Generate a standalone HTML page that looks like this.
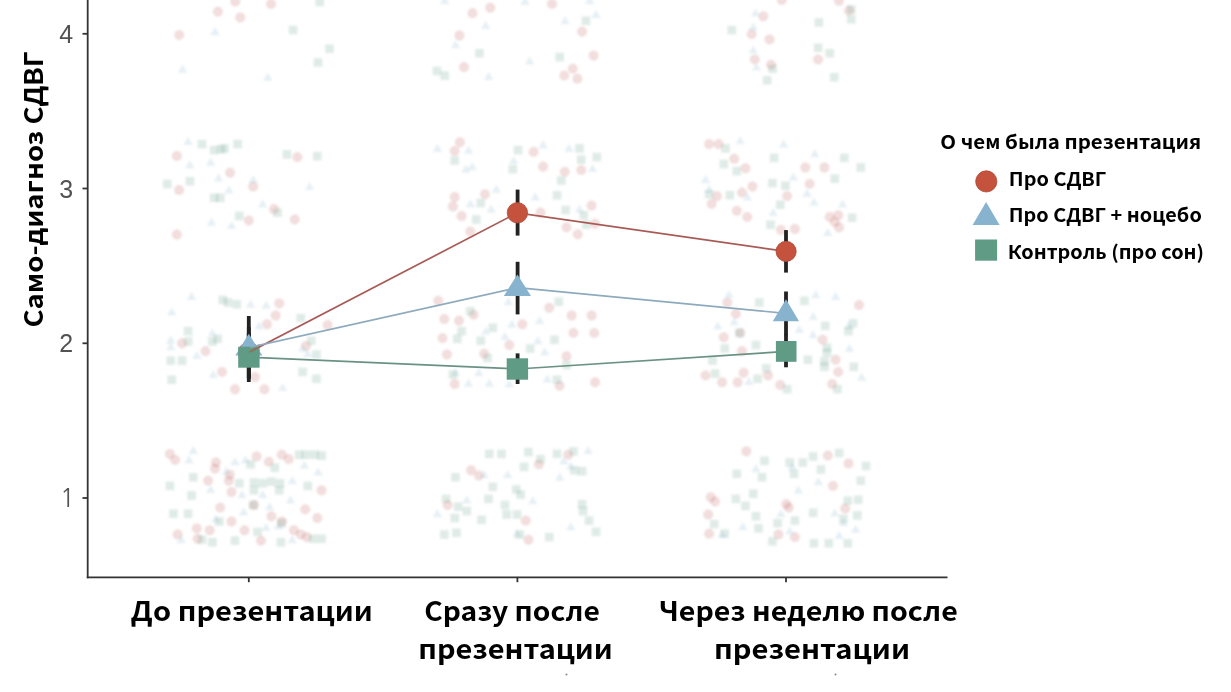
<!DOCTYPE html>
<html lang="ru">
<head>
<meta charset="utf-8">
<title>Само-диагноз СДВГ</title>
<style>
html,body{margin:0;padding:0;background:#fff;}
body{width:1231px;height:692px;overflow:hidden;position:relative;}
svg{position:absolute;left:0;top:0;display:block;filter:blur(0.3px);}
.lab{font-family:"Noto Sans CJK SC","Liberation Sans",sans-serif;font-weight:700;fill:#000;}
.tick{font-family:"Liberation Sans",Arial,sans-serif;font-size:25px;fill:#525252;}
</style>
</head>
<body>
<svg width="1231" height="692" viewBox="0 0 1231 692">
  <defs><filter id="bl" x="-5%" y="-5%" width="110%" height="110%"><feGaussianBlur stdDeviation="1"/></filter></defs>
  <rect x="0" y="0" width="1231" height="692" fill="#fff"/>
  <!-- jitter points -->
  <g id="jitter" filter="url(#bl)">
<g fill="#c05050" fill-opacity="0.19" stroke="#b04848" stroke-opacity="0.14" stroke-width="0.9">
<circle cx="179.2" cy="34.9" r="4.5"/><circle cx="217.9" cy="11.7" r="4.5"/><circle cx="235.3" cy="1.6" r="4.5"/><circle cx="240.2" cy="17.5" r="4.5"/><circle cx="271.0" cy="4.0" r="4.5"/><circle cx="176.9" cy="155.9" r="4.5"/><circle cx="230.1" cy="172.7" r="4.5"/><circle cx="179.1" cy="190.0" r="4.5"/><circle cx="253.2" cy="186.5" r="4.5"/><circle cx="248.8" cy="220.4" r="4.5"/><circle cx="274.0" cy="209.1" r="4.5"/><circle cx="294.8" cy="219.5" r="4.5"/><circle cx="176.9" cy="234.6" r="4.5"/><circle cx="297.4" cy="157.1" r="4.5"/><circle cx="279.2" cy="303.4" r="4.5"/><circle cx="275.7" cy="315.5" r="4.5"/><circle cx="267.0" cy="324.2" r="4.5"/><circle cx="182.1" cy="343.3" r="4.5"/><circle cx="205.5" cy="351.1" r="4.5"/><circle cx="222.0" cy="371.9" r="4.5"/><circle cx="254.9" cy="377.1" r="4.5"/><circle cx="235.0" cy="389.2" r="4.5"/><circle cx="264.4" cy="389.2" r="4.5"/><circle cx="306.0" cy="345.9" r="4.5"/><circle cx="327.7" cy="325.1" r="4.5"/><circle cx="169.9" cy="453.9" r="4.5"/><circle cx="175.1" cy="459.9" r="4.5"/><circle cx="215.9" cy="462.5" r="4.5"/><circle cx="215.0" cy="468.6" r="4.5"/><circle cx="208.1" cy="480.7" r="4.5"/><circle cx="229.8" cy="474.7" r="4.5"/><circle cx="228.9" cy="480.7" r="4.5"/><circle cx="231.5" cy="492.0" r="4.5"/><circle cx="256.6" cy="456.5" r="4.5"/><circle cx="268.8" cy="461.7" r="4.5"/><circle cx="281.8" cy="454.7" r="4.5"/><circle cx="288.7" cy="459.1" r="4.5"/><circle cx="321.6" cy="490.3" r="4.5"/><circle cx="220.2" cy="507.6" r="4.5"/><circle cx="254.0" cy="505.0" r="4.5"/><circle cx="305.2" cy="509.3" r="4.5"/><circle cx="317.3" cy="518.0" r="4.5"/><circle cx="271.4" cy="516.3" r="4.5"/><circle cx="231.5" cy="521.5" r="4.5"/><circle cx="196.8" cy="528.4" r="4.5"/><circle cx="209.8" cy="530.2" r="4.5"/><circle cx="244.5" cy="530.2" r="4.5"/><circle cx="177.7" cy="534.5" r="4.5"/><circle cx="197.7" cy="538.8" r="4.5"/><circle cx="293.9" cy="530.2" r="4.5"/><circle cx="300.8" cy="534.5" r="4.5"/><circle cx="306.9" cy="537.1" r="4.5"/><circle cx="261.0" cy="540.6" r="4.5"/><circle cx="281.8" cy="521.5" r="4.5"/><circle cx="490.2" cy="7.7" r="4.5"/><circle cx="472.5" cy="13.1" r="4.5"/><circle cx="459.4" cy="35.5" r="4.5"/><circle cx="464.0" cy="67.1" r="4.5"/><circle cx="552.0" cy="3.9" r="4.5"/><circle cx="582.1" cy="31.6" r="4.5"/><circle cx="593.6" cy="55.6" r="4.5"/><circle cx="572.8" cy="68.7" r="4.5"/><circle cx="564.3" cy="75.6" r="4.5"/><circle cx="577.4" cy="78.7" r="4.5"/><circle cx="459.9" cy="142.3" r="4.5"/><circle cx="454.7" cy="151.0" r="4.5"/><circle cx="533.6" cy="151.9" r="4.5"/><circle cx="543.1" cy="166.6" r="4.5"/><circle cx="564.8" cy="171.8" r="4.5"/><circle cx="581.2" cy="170.1" r="4.5"/><circle cx="485.0" cy="194.3" r="4.5"/><circle cx="454.7" cy="197.0" r="4.5"/><circle cx="452.9" cy="206.5" r="4.5"/><circle cx="461.6" cy="216.0" r="4.5"/><circle cx="470.3" cy="231.6" r="4.5"/><circle cx="540.5" cy="212.6" r="4.5"/><circle cx="591.6" cy="205.6" r="4.5"/><circle cx="595.1" cy="223.8" r="4.5"/><circle cx="577.8" cy="234.2" r="4.5"/><circle cx="566.5" cy="227.3" r="4.5"/><circle cx="438.2" cy="300.8" r="4.5"/><circle cx="444.3" cy="319.0" r="4.5"/><circle cx="459.0" cy="320.7" r="4.5"/><circle cx="442.5" cy="338.1" r="4.5"/><circle cx="473.7" cy="314.7" r="4.5"/><circle cx="522.3" cy="324.2" r="4.5"/><circle cx="509.3" cy="345.0" r="4.5"/><circle cx="484.1" cy="353.7" r="4.5"/><circle cx="446.9" cy="354.5" r="4.5"/><circle cx="454.7" cy="384.0" r="4.5"/><circle cx="549.2" cy="307.7" r="4.5"/><circle cx="571.7" cy="315.5" r="4.5"/><circle cx="591.6" cy="315.5" r="4.5"/><circle cx="573.4" cy="332.9" r="4.5"/><circle cx="594.2" cy="332.9" r="4.5"/><circle cx="566.5" cy="356.3" r="4.5"/><circle cx="559.6" cy="385.8" r="4.5"/><circle cx="595.1" cy="382.3" r="4.5"/><circle cx="471.1" cy="470.3" r="4.5"/><circle cx="478.9" cy="475.5" r="4.5"/><circle cx="538.8" cy="464.3" r="4.5"/><circle cx="568.2" cy="454.7" r="4.5"/><circle cx="447.7" cy="505.0" r="4.5"/><circle cx="525.8" cy="520.6" r="4.5"/><circle cx="528.4" cy="539.7" r="4.5"/><circle cx="781.8" cy="0.0" r="4.5"/><circle cx="838.9" cy="0.8" r="4.5"/><circle cx="763.3" cy="16.2" r="4.5"/><circle cx="751.7" cy="34.0" r="4.5"/><circle cx="769.5" cy="39.4" r="4.5"/><circle cx="754.8" cy="59.4" r="4.5"/><circle cx="771.0" cy="64.8" r="4.5"/><circle cx="818.1" cy="59.4" r="4.5"/><circle cx="849.0" cy="10.8" r="4.5"/><circle cx="709.1" cy="144.1" r="4.5"/><circle cx="718.6" cy="144.1" r="4.5"/><circle cx="734.2" cy="158.8" r="4.5"/><circle cx="745.5" cy="168.3" r="4.5"/><circle cx="752.4" cy="186.5" r="4.5"/><circle cx="742.0" cy="192.6" r="4.5"/><circle cx="716.9" cy="196.1" r="4.5"/><circle cx="711.7" cy="203.9" r="4.5"/><circle cx="736.8" cy="210.8" r="4.5"/><circle cx="747.2" cy="216.9" r="4.5"/><circle cx="805.3" cy="167.5" r="4.5"/><circle cx="824.4" cy="167.5" r="4.5"/><circle cx="809.6" cy="183.9" r="4.5"/><circle cx="787.1" cy="196.1" r="4.5"/><circle cx="781.0" cy="229.9" r="4.5"/><circle cx="794.9" cy="229.0" r="4.5"/><circle cx="829.6" cy="216.9" r="4.5"/><circle cx="838.2" cy="215.2" r="4.5"/><circle cx="834.8" cy="222.1" r="4.5"/><circle cx="839.1" cy="227.3" r="4.5"/><circle cx="727.3" cy="302.5" r="4.5"/><circle cx="735.9" cy="313.8" r="4.5"/><circle cx="723.8" cy="337.2" r="4.5"/><circle cx="740.3" cy="332.9" r="4.5"/><circle cx="742.0" cy="351.1" r="4.5"/><circle cx="705.6" cy="375.4" r="4.5"/><circle cx="722.1" cy="382.3" r="4.5"/><circle cx="737.7" cy="382.3" r="4.5"/><circle cx="743.7" cy="372.8" r="4.5"/><circle cx="768.0" cy="375.4" r="4.5"/><circle cx="780.2" cy="384.9" r="4.5"/><circle cx="822.6" cy="339.8" r="4.5"/><circle cx="859.0" cy="305.1" r="4.5"/><circle cx="835.6" cy="359.8" r="4.5"/><circle cx="838.2" cy="371.9" r="4.5"/><circle cx="832.2" cy="384.0" r="4.5"/><circle cx="746.3" cy="451.3" r="4.5"/><circle cx="827.8" cy="455.6" r="4.5"/><circle cx="848.6" cy="463.4" r="4.5"/><circle cx="833.0" cy="485.9" r="4.5"/><circle cx="710.8" cy="497.2" r="4.5"/><circle cx="715.1" cy="501.5" r="4.5"/><circle cx="708.2" cy="514.5" r="4.5"/><circle cx="709.1" cy="533.6" r="4.5"/><circle cx="786.2" cy="504.1" r="4.5"/><circle cx="788.8" cy="507.6" r="4.5"/><circle cx="778.4" cy="534.5" r="4.5"/><circle cx="794.9" cy="537.1" r="4.5"/><circle cx="845.2" cy="508.5" r="4.5"/>
</g>
<g fill="#87b3cf" fill-opacity="0.2">
<polygon points="215.0,27.0 219.8,35.2 210.2,35.2"/><polygon points="182.5,64.5 187.2,72.7 177.8,72.7"/><polygon points="267.8,72.5 272.6,80.7 263.1,80.7"/><polygon points="188.1,136.8 192.8,145.0 183.3,145.0"/><polygon points="189.9,160.2 194.7,168.4 185.2,168.4"/><polygon points="210.7,157.6 215.4,165.8 205.9,165.8"/><polygon points="218.5,173.2 223.2,181.4 213.8,181.4"/><polygon points="228.9,185.4 233.7,193.6 224.2,193.6"/><polygon points="253.2,175.0 257.9,183.2 248.4,183.2"/><polygon points="262.7,199.3 267.4,207.5 257.9,207.5"/><polygon points="211.5,217.5 216.2,225.7 206.8,225.7"/><polygon points="231.5,220.9 236.2,229.1 226.8,229.1"/><polygon points="309.5,181.9 314.2,190.1 304.8,190.1"/><polygon points="191.6,291.8 196.3,300.0 186.8,300.0"/><polygon points="171.7,307.4 176.4,315.6 166.9,315.6"/><polygon points="170.8,335.2 175.6,343.4 166.1,343.4"/><polygon points="170.8,342.1 175.6,350.3 166.1,350.3"/><polygon points="196.8,350.8 201.6,359.0 192.1,359.0"/><polygon points="212.4,328.2 217.2,336.4 207.7,336.4"/><polygon points="250.6,299.6 255.3,307.8 245.8,307.8"/><polygon points="266.2,300.5 270.9,308.7 261.4,308.7"/><polygon points="259.2,321.3 263.9,329.5 254.4,329.5"/><polygon points="213.3,369.9 218.1,378.1 208.6,378.1"/><polygon points="282.6,382.9 287.4,391.1 277.9,391.1"/><polygon points="302.6,343.8 307.4,352.0 297.9,352.0"/><polygon points="307.8,349.0 312.6,357.2 303.1,357.2"/><polygon points="193.3,445.8 198.1,454.0 188.6,454.0"/><polygon points="189.0,455.3 193.8,463.5 184.2,463.5"/><polygon points="235.0,457.0 239.8,465.2 230.2,465.2"/><polygon points="245.4,455.3 250.2,463.5 240.7,463.5"/><polygon points="226.3,466.6 231.1,474.8 221.6,474.8"/><polygon points="210.7,484.8 215.4,493.0 205.9,493.0"/><polygon points="241.9,490.0 246.7,498.2 237.2,498.2"/><polygon points="262.7,490.0 267.4,498.2 257.9,498.2"/><polygon points="292.2,476.1 296.9,484.3 287.4,484.3"/><polygon points="304.3,460.5 309.1,468.7 299.6,468.7"/><polygon points="318.2,467.4 322.9,475.6 313.4,475.6"/><polygon points="290.4,495.2 295.1,503.4 285.6,503.4"/><polygon points="269.6,502.1 274.4,510.3 264.9,510.3"/><polygon points="243.6,507.3 248.3,515.5 238.8,515.5"/><polygon points="215.9,514.3 220.7,522.5 211.2,522.5"/><polygon points="266.2,522.9 270.9,531.1 261.4,531.1"/><polygon points="278.3,521.2 283.1,529.4 273.6,529.4"/><polygon points="181.2,535.1 185.9,543.3 176.4,543.3"/><polygon points="292.2,535.1 296.9,543.3 287.4,543.3"/><polygon points="525.0,-3.2 529.8,5.0 520.2,5.0"/><polygon points="485.6,20.7 490.4,28.9 480.9,28.9"/><polygon points="455.5,40.0 460.2,48.2 450.8,48.2"/><polygon points="529.6,56.2 534.4,64.4 524.9,64.4"/><polygon points="488.7,71.7 493.4,79.9 483.9,79.9"/><polygon points="565.1,16.1 569.9,24.3 560.4,24.3"/><polygon points="596.0,9.9 600.8,18.1 591.2,18.1"/><polygon points="589.8,-4.0 594.5,4.2 585.0,4.2"/><polygon points="444.7,-4.0 449.4,4.2 439.9,4.2"/><polygon points="437.3,143.8 442.1,152.0 432.6,152.0"/><polygon points="468.5,145.5 473.2,153.7 463.8,153.7"/><polygon points="465.9,164.6 470.6,172.8 461.1,172.8"/><polygon points="472.0,162.0 476.8,170.2 467.2,170.2"/><polygon points="513.6,155.9 518.4,164.1 508.9,164.1"/><polygon points="543.1,140.3 547.9,148.5 538.4,148.5"/><polygon points="569.1,143.8 573.9,152.0 564.4,152.0"/><polygon points="592.5,163.7 597.2,171.9 587.8,171.9"/><polygon points="496.3,184.5 501.1,192.7 491.6,192.7"/><polygon points="470.3,199.3 475.1,207.5 465.6,207.5"/><polygon points="491.1,204.5 495.9,212.7 486.4,212.7"/><polygon points="535.3,192.3 540.0,200.5 530.5,200.5"/><polygon points="579.5,204.5 584.2,212.7 574.8,212.7"/><polygon points="508.4,297.0 513.1,305.2 503.6,305.2"/><polygon points="539.6,316.1 544.4,324.3 534.9,324.3"/><polygon points="511.9,319.6 516.6,327.8 507.1,327.8"/><polygon points="505.0,331.7 509.8,339.9 500.2,339.9"/><polygon points="537.9,336.0 542.6,344.2 533.1,344.2"/><polygon points="544.8,347.3 549.5,355.5 540.0,355.5"/><polygon points="485.9,326.5 490.6,334.7 481.1,334.7"/><polygon points="478.9,368.1 483.6,376.3 474.1,376.3"/><polygon points="468.5,378.5 473.2,386.7 463.8,386.7"/><polygon points="489.3,378.5 494.1,386.7 484.6,386.7"/><polygon points="509.3,379.4 514.0,387.6 504.6,387.6"/><polygon points="547.4,374.2 552.1,382.4 542.6,382.4"/><polygon points="455.5,368.1 460.2,376.3 450.8,376.3"/><polygon points="484.1,470.0 488.9,478.2 479.4,478.2"/><polygon points="507.6,470.0 512.4,478.2 502.9,478.2"/><polygon points="588.2,445.8 593.0,454.0 583.5,454.0"/><polygon points="563.9,456.2 568.6,464.4 559.1,464.4"/><polygon points="570.8,461.4 575.5,469.6 566.0,469.6"/><polygon points="559.6,472.6 564.4,480.8 554.9,480.8"/><polygon points="532.7,496.0 537.5,504.2 528.0,504.2"/><polygon points="466.8,495.2 471.6,503.4 462.1,503.4"/><polygon points="437.3,509.0 442.1,517.2 432.6,517.2"/><polygon points="570.8,522.1 575.5,530.3 566.0,530.3"/><polygon points="517.1,529.0 521.9,537.2 512.4,537.2"/><polygon points="755.6,8.4 760.4,16.6 750.9,16.6"/><polygon points="753.3,22.3 758.0,30.5 748.5,30.5"/><polygon points="753.3,45.4 758.0,53.6 748.5,53.6"/><polygon points="756.4,62.4 761.1,70.6 751.6,70.6"/><polygon points="740.3,136.0 745.0,144.2 735.5,144.2"/><polygon points="783.6,139.4 788.4,147.6 778.9,147.6"/><polygon points="814.8,149.0 819.5,157.2 810.0,157.2"/><polygon points="793.2,172.4 798.0,180.6 788.5,180.6"/><polygon points="705.6,175.0 710.4,183.2 700.9,183.2"/><polygon points="709.1,184.5 713.9,192.7 704.4,192.7"/><polygon points="747.2,192.3 752.0,200.5 742.5,200.5"/><polygon points="807.0,188.8 811.8,197.0 802.2,197.0"/><polygon points="814.0,197.5 818.8,205.7 809.2,205.7"/><polygon points="773.2,207.9 778.0,216.1 768.5,216.1"/><polygon points="842.6,199.3 847.4,207.5 837.9,207.5"/><polygon points="827.8,227.9 832.5,236.1 823.0,236.1"/><polygon points="729.0,290.1 733.8,298.3 724.2,298.3"/><polygon points="717.7,321.3 722.5,329.5 713.0,329.5"/><polygon points="734.2,317.0 739.0,325.2 729.5,325.2"/><polygon points="815.7,290.1 820.5,298.3 811.0,298.3"/><polygon points="835.6,291.8 840.4,300.0 830.9,300.0"/><polygon points="813.1,311.8 817.9,320.0 808.4,320.0"/><polygon points="799.2,324.8 804.0,333.0 794.5,333.0"/><polygon points="813.1,330.0 817.9,338.2 808.4,338.2"/><polygon points="848.6,321.3 853.4,329.5 843.9,329.5"/><polygon points="849.5,343.8 854.2,352.0 844.8,352.0"/><polygon points="861.6,372.5 866.4,380.7 856.9,380.7"/><polygon points="748.9,376.8 753.6,385.0 744.1,385.0"/><polygon points="755.9,464.0 760.6,472.2 751.1,472.2"/><polygon points="792.3,462.2 797.0,470.4 787.5,470.4"/><polygon points="818.3,477.0 823.0,485.2 813.5,485.2"/><polygon points="798.4,485.6 803.1,493.8 793.6,493.8"/><polygon points="781.0,509.0 785.8,517.2 776.2,517.2"/><polygon points="834.8,508.2 839.5,516.4 830.0,516.4"/><polygon points="843.4,517.7 848.1,525.9 838.6,525.9"/><polygon points="855.6,524.7 860.4,532.9 850.9,532.9"/><polygon points="742.9,522.1 747.6,530.3 738.1,530.3"/><polygon points="789.7,526.4 794.5,534.6 785.0,534.6"/><polygon points="839.1,530.7 843.9,538.9 834.4,538.9"/><polygon points="722.1,529.9 726.9,538.1 717.4,538.1"/>
</g>
<g fill="#5f9b85" fill-opacity="0.2">
<rect x="315.5" y="-2.3" width="8.6" height="8.6"/><rect x="288.7" y="25.7" width="8.6" height="8.6"/><rect x="325.2" y="44.4" width="8.6" height="8.6"/><rect x="313.7" y="58.2" width="8.6" height="8.6"/><rect x="197.7" y="139.8" width="8.6" height="8.6"/><rect x="209.8" y="145.8" width="8.6" height="8.6"/><rect x="216.8" y="145.0" width="8.6" height="8.6"/><rect x="220.2" y="144.1" width="8.6" height="8.6"/><rect x="233.3" y="139.8" width="8.6" height="8.6"/><rect x="163.0" y="179.7" width="8.6" height="8.6"/><rect x="185.6" y="177.0" width="8.6" height="8.6"/><rect x="209.8" y="193.5" width="8.6" height="8.6"/><rect x="215.9" y="193.5" width="8.6" height="8.6"/><rect x="235.0" y="211.7" width="8.6" height="8.6"/><rect x="273.1" y="208.3" width="8.6" height="8.6"/><rect x="282.7" y="150.2" width="8.6" height="8.6"/><rect x="313.0" y="151.9" width="8.6" height="8.6"/><rect x="218.5" y="295.6" width="8.6" height="8.6"/><rect x="223.7" y="298.2" width="8.6" height="8.6"/><rect x="232.4" y="300.0" width="8.6" height="8.6"/><rect x="183.8" y="326.8" width="8.6" height="8.6"/><rect x="183.8" y="337.2" width="8.6" height="8.6"/><rect x="213.3" y="334.6" width="8.6" height="8.6"/><rect x="208.1" y="337.2" width="8.6" height="8.6"/><rect x="166.5" y="356.3" width="8.6" height="8.6"/><rect x="177.8" y="356.3" width="8.6" height="8.6"/><rect x="167.4" y="375.4" width="8.6" height="8.6"/><rect x="298.3" y="367.6" width="8.6" height="8.6"/><rect x="312.1" y="374.5" width="8.6" height="8.6"/><rect x="312.1" y="350.2" width="8.6" height="8.6"/><rect x="296.5" y="313.8" width="8.6" height="8.6"/><rect x="306.9" y="336.4" width="8.6" height="8.6"/><rect x="165.6" y="481.6" width="8.6" height="8.6"/><rect x="189.0" y="473.0" width="8.6" height="8.6"/><rect x="187.3" y="491.2" width="8.6" height="8.6"/><rect x="169.1" y="509.4" width="8.6" height="8.6"/><rect x="183.8" y="509.4" width="8.6" height="8.6"/><rect x="235.0" y="479.0" width="8.6" height="8.6"/><rect x="249.7" y="478.2" width="8.6" height="8.6"/><rect x="258.4" y="479.0" width="8.6" height="8.6"/><rect x="267.1" y="477.3" width="8.6" height="8.6"/><rect x="275.7" y="479.0" width="8.6" height="8.6"/><rect x="274.9" y="486.0" width="8.6" height="8.6"/><rect x="249.7" y="486.0" width="8.6" height="8.6"/><rect x="303.5" y="481.6" width="8.6" height="8.6"/><rect x="270.5" y="463.4" width="8.6" height="8.6"/><rect x="294.8" y="450.4" width="8.6" height="8.6"/><rect x="301.7" y="450.4" width="8.6" height="8.6"/><rect x="310.4" y="450.4" width="8.6" height="8.6"/><rect x="317.3" y="451.3" width="8.6" height="8.6"/><rect x="246.3" y="460.0" width="8.6" height="8.6"/><rect x="215.0" y="517.2" width="8.6" height="8.6"/><rect x="230.7" y="536.3" width="8.6" height="8.6"/><rect x="197.7" y="535.4" width="8.6" height="8.6"/><rect x="208.1" y="538.0" width="8.6" height="8.6"/><rect x="276.6" y="538.0" width="8.6" height="8.6"/><rect x="253.2" y="527.6" width="8.6" height="8.6"/><rect x="308.7" y="534.5" width="8.6" height="8.6"/><rect x="317.3" y="534.5" width="8.6" height="8.6"/><rect x="248.9" y="500.7" width="8.6" height="8.6"/><rect x="277.5" y="518.9" width="8.6" height="8.6"/><rect x="581.6" y="16.5" width="8.6" height="8.6"/><rect x="475.1" y="48.9" width="8.6" height="8.6"/><rect x="555.4" y="52.8" width="8.6" height="8.6"/><rect x="432.7" y="66.7" width="8.6" height="8.6"/><rect x="440.4" y="71.3" width="8.6" height="8.6"/><rect x="450.4" y="156.2" width="8.6" height="8.6"/><rect x="513.7" y="145.8" width="8.6" height="8.6"/><rect x="508.5" y="164.9" width="8.6" height="8.6"/><rect x="575.2" y="144.1" width="8.6" height="8.6"/><rect x="576.9" y="155.4" width="8.6" height="8.6"/><rect x="592.5" y="152.8" width="8.6" height="8.6"/><rect x="557.0" y="176.2" width="8.6" height="8.6"/><rect x="552.7" y="190.9" width="8.6" height="8.6"/><rect x="476.4" y="198.7" width="8.6" height="8.6"/><rect x="472.0" y="215.2" width="8.6" height="8.6"/><rect x="561.3" y="205.7" width="8.6" height="8.6"/><rect x="579.5" y="210.9" width="8.6" height="8.6"/><rect x="582.1" y="220.4" width="8.6" height="8.6"/><rect x="554.4" y="297.4" width="8.6" height="8.6"/><rect x="466.0" y="306.9" width="8.6" height="8.6"/><rect x="457.3" y="326.8" width="8.6" height="8.6"/><rect x="453.0" y="334.6" width="8.6" height="8.6"/><rect x="476.4" y="336.4" width="8.6" height="8.6"/><rect x="488.5" y="323.4" width="8.6" height="8.6"/><rect x="525.8" y="344.2" width="8.6" height="8.6"/><rect x="550.1" y="335.5" width="8.6" height="8.6"/><rect x="562.2" y="360.7" width="8.6" height="8.6"/><rect x="552.7" y="375.4" width="8.6" height="8.6"/><rect x="448.6" y="370.2" width="8.6" height="8.6"/><rect x="483.3" y="353.7" width="8.6" height="8.6"/><rect x="485.0" y="449.6" width="8.6" height="8.6"/><rect x="497.2" y="449.6" width="8.6" height="8.6"/><rect x="524.1" y="447.8" width="8.6" height="8.6"/><rect x="552.7" y="449.6" width="8.6" height="8.6"/><rect x="569.1" y="447.0" width="8.6" height="8.6"/><rect x="536.2" y="454.8" width="8.6" height="8.6"/><rect x="519.7" y="462.6" width="8.6" height="8.6"/><rect x="451.2" y="473.0" width="8.6" height="8.6"/><rect x="488.5" y="482.5" width="8.6" height="8.6"/><rect x="511.9" y="485.1" width="8.6" height="8.6"/><rect x="516.3" y="490.3" width="8.6" height="8.6"/><rect x="484.2" y="494.6" width="8.6" height="8.6"/><rect x="441.7" y="494.6" width="8.6" height="8.6"/><rect x="453.8" y="502.4" width="8.6" height="8.6"/><rect x="462.5" y="506.8" width="8.6" height="8.6"/><rect x="450.4" y="513.7" width="8.6" height="8.6"/><rect x="500.7" y="500.7" width="8.6" height="8.6"/><rect x="502.4" y="510.2" width="8.6" height="8.6"/><rect x="512.8" y="510.2" width="8.6" height="8.6"/><rect x="477.2" y="515.5" width="8.6" height="8.6"/><rect x="440.0" y="530.2" width="8.6" height="8.6"/><rect x="452.1" y="528.5" width="8.6" height="8.6"/><rect x="515.4" y="530.2" width="8.6" height="8.6"/><rect x="544.9" y="532.8" width="8.6" height="8.6"/><rect x="577.8" y="466.9" width="8.6" height="8.6"/><rect x="570.0" y="466.0" width="8.6" height="8.6"/><rect x="577.8" y="499.8" width="8.6" height="8.6"/><rect x="578.7" y="506.8" width="8.6" height="8.6"/><rect x="584.7" y="516.3" width="8.6" height="8.6"/><rect x="591.7" y="527.6" width="8.6" height="8.6"/><rect x="727.4" y="25.8" width="8.6" height="8.6"/><rect x="814.6" y="18.1" width="8.6" height="8.6"/><rect x="847.0" y="5.0" width="8.6" height="8.6"/><rect x="847.0" y="15.0" width="8.6" height="8.6"/><rect x="813.8" y="43.5" width="8.6" height="8.6"/><rect x="825.4" y="48.9" width="8.6" height="8.6"/><rect x="768.3" y="64.4" width="8.6" height="8.6"/><rect x="762.9" y="76.0" width="8.6" height="8.6"/><rect x="830.0" y="72.9" width="8.6" height="8.6"/><rect x="721.2" y="144.1" width="8.6" height="8.6"/><rect x="719.5" y="159.7" width="8.6" height="8.6"/><rect x="732.5" y="166.7" width="8.6" height="8.6"/><rect x="769.8" y="153.6" width="8.6" height="8.6"/><rect x="840.0" y="153.6" width="8.6" height="8.6"/><rect x="856.5" y="163.2" width="8.6" height="8.6"/><rect x="830.5" y="174.4" width="8.6" height="8.6"/><rect x="768.1" y="178.8" width="8.6" height="8.6"/><rect x="781.1" y="181.4" width="8.6" height="8.6"/><rect x="725.6" y="190.9" width="8.6" height="8.6"/><rect x="704.8" y="190.0" width="8.6" height="8.6"/><rect x="775.9" y="200.5" width="8.6" height="8.6"/><rect x="766.3" y="220.4" width="8.6" height="8.6"/><rect x="847.8" y="213.5" width="8.6" height="8.6"/><rect x="755.0" y="298.2" width="8.6" height="8.6"/><rect x="800.1" y="296.5" width="8.6" height="8.6"/><rect x="820.9" y="321.6" width="8.6" height="8.6"/><rect x="848.7" y="319.0" width="8.6" height="8.6"/><rect x="844.3" y="326.8" width="8.6" height="8.6"/><rect x="735.1" y="328.6" width="8.6" height="8.6"/><rect x="751.6" y="340.7" width="8.6" height="8.6"/><rect x="720.4" y="344.2" width="8.6" height="8.6"/><rect x="822.7" y="343.3" width="8.6" height="8.6"/><rect x="822.7" y="348.5" width="8.6" height="8.6"/><rect x="803.6" y="355.5" width="8.6" height="8.6"/><rect x="820.1" y="357.2" width="8.6" height="8.6"/><rect x="820.1" y="362.4" width="8.6" height="8.6"/><rect x="849.5" y="362.4" width="8.6" height="8.6"/><rect x="708.2" y="356.3" width="8.6" height="8.6"/><rect x="710.8" y="369.3" width="8.6" height="8.6"/><rect x="753.3" y="374.5" width="8.6" height="8.6"/><rect x="762.0" y="364.1" width="8.6" height="8.6"/><rect x="782.8" y="384.9" width="8.6" height="8.6"/><rect x="833.1" y="384.9" width="8.6" height="8.6"/><rect x="760.2" y="456.5" width="8.6" height="8.6"/><rect x="732.5" y="469.5" width="8.6" height="8.6"/><rect x="757.7" y="473.0" width="8.6" height="8.6"/><rect x="785.4" y="458.2" width="8.6" height="8.6"/><rect x="789.7" y="469.5" width="8.6" height="8.6"/><rect x="798.4" y="458.2" width="8.6" height="8.6"/><rect x="808.8" y="452.2" width="8.6" height="8.6"/><rect x="834.8" y="448.7" width="8.6" height="8.6"/><rect x="816.6" y="465.2" width="8.6" height="8.6"/><rect x="861.7" y="461.7" width="8.6" height="8.6"/><rect x="856.5" y="476.4" width="8.6" height="8.6"/><rect x="749.0" y="489.4" width="8.6" height="8.6"/><rect x="731.6" y="494.6" width="8.6" height="8.6"/><rect x="741.2" y="501.6" width="8.6" height="8.6"/><rect x="751.6" y="512.0" width="8.6" height="8.6"/><rect x="754.2" y="524.1" width="8.6" height="8.6"/><rect x="710.0" y="519.8" width="8.6" height="8.6"/><rect x="720.4" y="529.3" width="8.6" height="8.6"/><rect x="773.3" y="518.9" width="8.6" height="8.6"/><rect x="790.6" y="516.3" width="8.6" height="8.6"/><rect x="808.8" y="508.5" width="8.6" height="8.6"/><rect x="768.1" y="537.1" width="8.6" height="8.6"/><rect x="809.6" y="538.9" width="8.6" height="8.6"/><rect x="824.4" y="538.9" width="8.6" height="8.6"/><rect x="843.5" y="538.9" width="8.6" height="8.6"/><rect x="843.5" y="496.4" width="8.6" height="8.6"/><rect x="853.9" y="495.5" width="8.6" height="8.6"/><rect x="853.0" y="511.1" width="8.6" height="8.6"/><rect x="839.1" y="514.6" width="8.6" height="8.6"/>
</g>
</g><!--/jitter-->

  <!-- axes -->
  <g stroke="#333" stroke-width="1.8" fill="none">
    <line x1="87.7" y1="0" x2="87.7" y2="578.3"/>
    <line x1="86.8" y1="577.4" x2="947.5" y2="577.4"/>
    <line x1="82.5" y1="33.8" x2="87.5" y2="33.8"/>
    <line x1="82.5" y1="188.5" x2="87.5" y2="188.5"/>
    <line x1="82.5" y1="343.3" x2="87.5" y2="343.3"/>
    <line x1="82.5" y1="498" x2="87.5" y2="498"/>
    <line x1="248.8" y1="577" x2="248.8" y2="582.2"/>
    <line x1="517.4" y1="577" x2="517.4" y2="582.2"/>
    <line x1="786" y1="577" x2="786" y2="582.2"/>
  </g>
  <g class="tick" text-anchor="end">
    <text x="73.2" y="42.8">4</text>
    <text x="73.2" y="197.5">3</text>
    <text x="73.2" y="352.2">2</text>
    <text x="74.8" y="506.6" font-family="NanumGothic, 'Liberation Sans', sans-serif" font-size="24.6">1</text>
  </g>

  <!-- connecting lines -->
  <g fill="none" stroke-width="1.7">
    <polyline stroke="#a85a55" points="248.8,352.5 517.4,212.8 786,251.4"/>
    <polyline stroke="#8eaabd" points="248.8,347.6 517.4,287.6 786,313.4"/>
    <polyline stroke="#6a9283" points="248.8,357.2 517.4,369 786,351.4"/>
  </g>

  <!-- error bars -->
  <g stroke="#222" stroke-width="3.8" fill="none">
    <line x1="248.8" y1="327" x2="248.8" y2="378"/>
    <line x1="248.8" y1="316" x2="248.8" y2="379"/>
    <line x1="248.8" y1="333" x2="248.8" y2="382"/>
    <line x1="517.6" y1="189.6" x2="517.6" y2="235.6"/>
    <line x1="517.6" y1="261.8" x2="517.6" y2="314.4"/>
    <line x1="517.6" y1="353.4" x2="517.6" y2="384"/>
    <line x1="786" y1="230.1" x2="786" y2="272.6"/>
    <line x1="786" y1="291.5" x2="786" y2="335.3"/>
    <line x1="786" y1="334" x2="786" y2="367.3"/>
  </g>

  <!-- markers -->
  <g>
    <circle cx="248.8" cy="352.5" r="10.3" fill="#c4523d" stroke="#b04a38" stroke-width="0.8"/>
    <polygon fill="#87b3cf" points="248.8,333.8 262.3,355.4 235.3,355.4"/>
    <rect x="238.2" y="346.7" width="21.4" height="21" fill="#5f9b85"/>
    <line x1="249.5" y1="352.1" x2="260" y2="346.6" stroke="#9a6a55" stroke-width="1.7"/>
    <line x1="250" y1="347.3" x2="260" y2="345.1" stroke="#8eaabd" stroke-width="1.5"/>

    <circle cx="517.4" cy="212.8" r="10.2" fill="#c4523d" stroke="#b04a38" stroke-width="0.8"/>
    <polygon fill="#87b3cf" points="517.4,274.5 531,295.9 503.8,295.9"/>
    <rect x="506.7" y="358.3" width="21.4" height="21.4" fill="#5f9b85"/>

    <circle cx="786.1" cy="251.4" r="10.1" fill="#c4523d" stroke="#b04a38" stroke-width="0.8"/>
    <polygon fill="#87b3cf" points="786,299.3 799,321.2 772.8,321.2"/>
    <rect x="775.9" y="341" width="20.6" height="20.8" fill="#5f9b85"/>
  </g>

  <!-- x labels -->
  <g class="lab" font-size="26.6">
    <text x="130.8" y="620.5" textLength="242" lengthAdjust="spacingAndGlyphs">До презентации</text>
    <text x="424.3" y="620.7" textLength="175.5" lengthAdjust="spacingAndGlyphs">Сразу после</text>
    <text x="418.3" y="659.1" textLength="194.5" lengthAdjust="spacingAndGlyphs">презентации</text>
    <text x="658.8" y="620.5" textLength="299" lengthAdjust="spacingAndGlyphs">Через неделю после</text>
    <text x="714" y="659.1" textLength="196" lengthAdjust="spacingAndGlyphs">презентации</text>
  </g>

  <!-- y title -->
  <text class="lab" font-size="25.5" transform="translate(42.8,327.6) rotate(-90)" x="0" y="0" textLength="276.5" lengthAdjust="spacingAndGlyphs">Само-диагноз СДВГ</text>

  <!-- legend -->
  <text class="lab" font-size="18.6" x="940.3" y="148.7" textLength="261" lengthAdjust="spacingAndGlyphs">О чем была презентация</text>
  <circle cx="986.3" cy="181.4" r="10.6" fill="#c4523d" stroke="#b04a38" stroke-width="0.8"/>
  <polygon fill="#87b3cf" points="986.1,201.9 999.6,225 972.6,225"/>
  <rect x="975.1" y="239.5" width="22" height="21.2" fill="#5f9b85"/>
  <g class="lab" font-size="18.8">
    <text x="1008.8" y="185.9" textLength="97.6" lengthAdjust="spacingAndGlyphs">Про СДВГ</text>
    <text x="1008.8" y="221.8" textLength="193" lengthAdjust="spacingAndGlyphs">Про СДВГ + ноцебо</text>
    <text x="1007.8" y="258.9" textLength="196.3" lengthAdjust="spacingAndGlyphs">Контроль (про сон)</text>
  </g>

  <!-- tiny specks below labels -->
  <circle cx="566.5" cy="674.5" r="1" fill="#888"/>
  <circle cx="835.5" cy="674.5" r="1" fill="#888"/>
</svg>
</body>
</html>
